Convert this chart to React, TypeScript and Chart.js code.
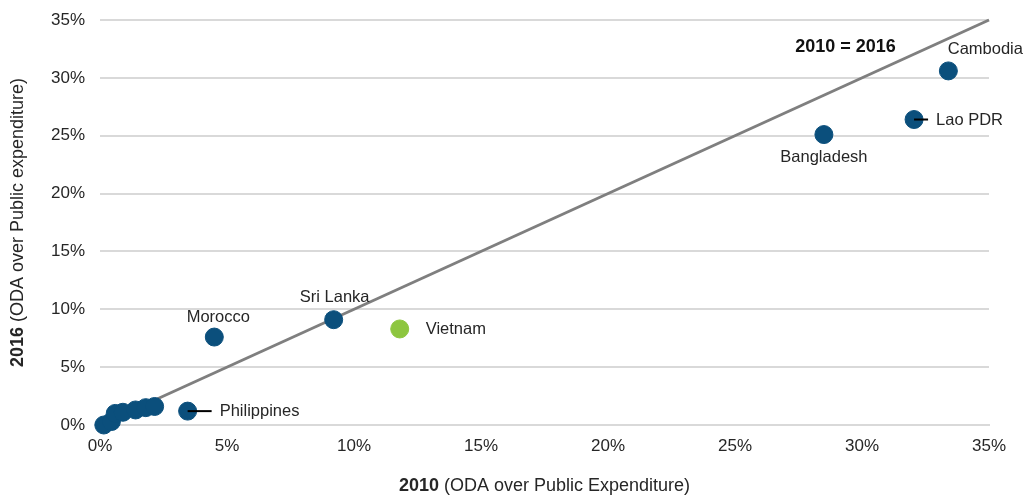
import React, { useEffect, useRef } from "react";
import { Chart, registerables } from "chart.js";

Chart.register(...registerables);

const countries = ["Cambodia", "Lao PDR", "Bangladesh", "Sri Lanka", "Morocco", "Philippines", "", "", "", "", "", "", ""];
const oda2010 = [33.4, 32.05, 28.5, 9.2, 4.5, 3.45, 0.15, 0.45, 0.6, 0.9, 1.4, 1.8, 2.15];
const oda2016 = [30.6, 26.4, 25.1, 9.1, 7.6, 1.2, 0.0, 0.3, 1.0, 1.1, 1.3, 1.5, 1.6];
const highlightName = "Vietnam";
const highlight2010 = [11.8];
const highlight2016 = [8.3];
const xTicks = [0, 5, 10, 15, 20, 25, 30, 35];
const yTicks = [0, 5, 10, 15, 20, 25, 30, 35];

// label placement (pixel offsets from point, alignment, leader line)
const labelStyle: Record<string, { dx: number; dy: number; align: CanvasTextAlign; leader?: number }> = {
  Cambodia: { dx: 37, dy: -21, align: "center" },
  "Lao PDR": { dx: 22, dy: 1, align: "left", leader: 14 },
  Bangladesh: { dx: 0, dy: 23, align: "center" },
  "Sri Lanka": { dx: 1, dy: -22, align: "center" },
  Morocco: { dx: 4, dy: -20, align: "center" },
  Philippines: { dx: 32, dy: 0, align: "left", leader: 24 },
  Vietnam: { dx: 26, dy: 0, align: "left" },
};

const FONT = "'Liberation Sans', Arial, sans-serif";
const TEXT = "#262626";

export default function App() {
  const ref = useRef<HTMLCanvasElement | null>(null);
  useEffect(() => {
    if (!ref.current) return;
    const pts = oda2010.map((x, i) => ({ x, y: oda2016[i] }));
    const hl = highlight2010.map((x, i) => ({ x, y: highlight2016[i] }));
    const labelPlugin = {
      id: "labels",
      afterDatasetsDraw(chart: any) {
        const ctx = chart.ctx;
        const xs = chart.scales.x;
        const ys = chart.scales.y;
        ctx.save();
        ctx.fillStyle = TEXT;
        ctx.strokeStyle = "#000";
        ctx.lineWidth = 2;
        ctx.font = `16.5px ${FONT}`;
        ctx.textBaseline = "middle";
        const drawLabel = (name: string, x: number, y: number) => {
          const st = labelStyle[name];
          if (!st) return;
          const px = xs.getPixelForValue(x);
          const py = ys.getPixelForValue(y);
          if (st.leader) {
            ctx.beginPath();
            ctx.moveTo(px, py);
            ctx.lineTo(px + st.leader, py);
            ctx.stroke();
          }
          ctx.textAlign = st.align;
          ctx.fillText(name, px + st.dx, py + st.dy);
        };
        countries.forEach((n, i) => n && drawLabel(n, oda2010[i], oda2016[i]));
        drawLabel(highlightName, highlight2010[0], highlight2016[0]);
        // identity label
        ctx.font = `bold 18px ${FONT}`;
        ctx.textAlign = "center";
        ctx.fillStyle = "#111";
        ctx.fillText("2010 = 2016", xs.getPixelForValue(29.35), ys.getPixelForValue(32.7));
        // axis titles
        const drawMixed = (bold: string, rest: string, cx: number, cy: number, rot: number) => {
          ctx.save();
          ctx.translate(cx, cy);
          ctx.rotate(rot);
          ctx.font = `bold 18px ${FONT}`;
          const wb = ctx.measureText(bold + " ").width;
          ctx.font = `18px ${FONT}`;
          const wr = ctx.measureText(rest).width;
          const start = -(wb + wr) / 2;
          ctx.textAlign = "left";
          ctx.fillStyle = TEXT;
          ctx.font = `bold 18px ${FONT}`;
          ctx.fillText(bold, start, 0);
          ctx.font = `18px ${FONT}`;
          ctx.fillText(rest, start + wb, 0);
          ctx.restore();
        };
        const midX = (chart.chartArea.left + chart.chartArea.right) / 2;
        const midY = (chart.chartArea.top + chart.chartArea.bottom) / 2;
        drawMixed("2010", "(ODA over Public Expenditure)", midX, 486, 0);
        drawMixed("2016", "(ODA over Public expenditure)", 18, midY, -Math.PI / 2);
        ctx.restore();
      },
    };
    const chart = new Chart(ref.current, {
      type: "scatter",
      data: {
        datasets: [
          {
            data: [{ x: 0, y: 0 }, { x: 35, y: 35 }],
            showLine: true,
            borderColor: "#7f7f7f",
            borderWidth: 3,
            pointRadius: 0,
            order: 3,
            clip: false,
          } as any,
          {
            data: pts,
            backgroundColor: "#0b4f7c",
            borderColor: "#0b4f7c",
            pointRadius: 9,
            order: 1,
            clip: false,
          },
          {
            data: hl,
            backgroundColor: "#8dc63f",
            borderColor: "#8dc63f",
            pointRadius: 9,
            order: 0,
            clip: false,
          },
        ],
      },
      options: {
        animation: false,
        responsive: false,
        events: [],
        layout: { padding: { left: 0, right: 36, top: 20, bottom: 0 } },
        plugins: { legend: { display: false }, tooltip: { enabled: false } },
        scales: {
          x: {
            type: "linear",
            min: 0,
            max: 35,
            afterBuildTicks: (s: any) => { s.ticks = xTicks.map((v) => ({ value: v })); },
            afterFit: (s: any) => { s.height = 72; s.paddingLeft = 0; s.paddingRight = 0; },
            grid: { display: false, drawTicks: false },
            border: { display: true, color: "#d9d9d9", width: 2 },
            ticks: {
              padding: 11,
              color: TEXT,
              font: { family: FONT, size: 17 },
              callback: (v: any) => `${v}%`,
              maxRotation: 0,
            },
          },
          y: {
            type: "linear",
            min: 0,
            max: 35,
            afterBuildTicks: (s: any) => { s.ticks = yTicks.map((v) => ({ value: v })); },
            afterFit: (s: any) => { s.width = 100; s.paddingTop = 0; s.paddingBottom = 0; },
            grid: { color: "#d9d9d9", lineWidth: 2, drawTicks: false },
            border: { display: false },
            ticks: {
              padding: 15,
              color: TEXT,
              font: { family: FONT, size: 17 },
              callback: (v: any) => `${v}%`,
            },
          },
        },
      },
      plugins: [labelPlugin],
    });
    return () => chart.destroy();
  }, []);
  return (
    <div style={{ position: "fixed", left: 0, top: 0, width: 1025, height: 497, background: "#fff" }}>
      <canvas ref={ref} width={1025} height={497} style={{ width: 1025, height: 497 }} />
    </div>
  );
}
